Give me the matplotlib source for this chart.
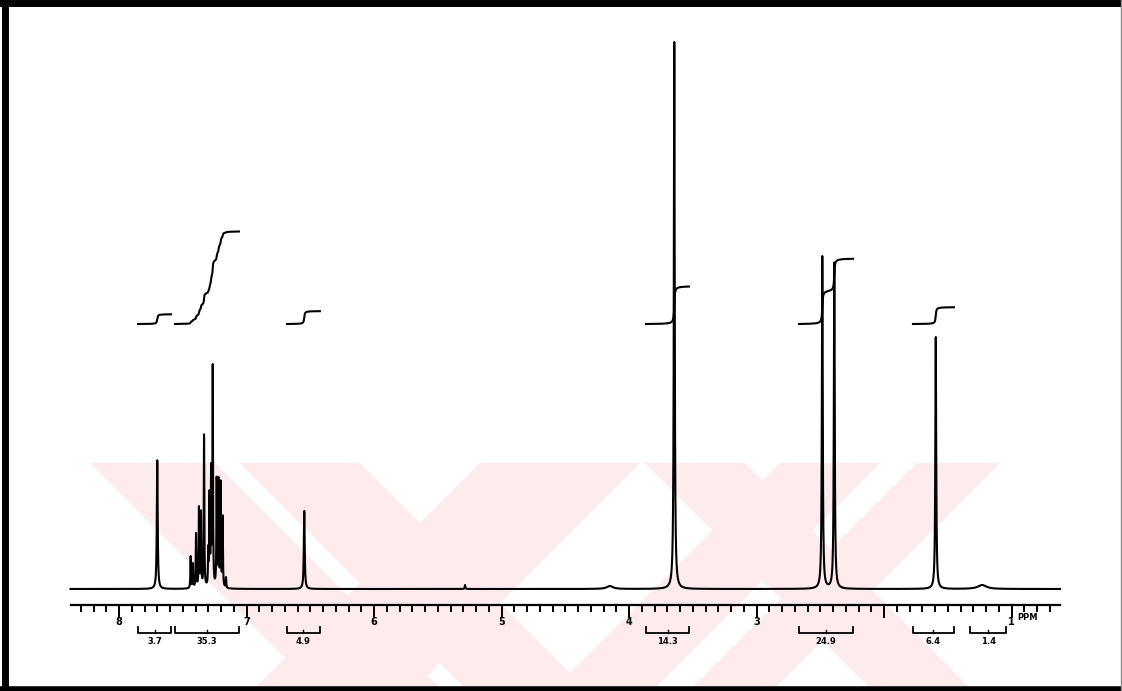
import numpy as np
import matplotlib
matplotlib.use("Agg")
import matplotlib.pyplot as plt
from matplotlib.patches import Polygon
from matplotlib.lines import Line2D

# ---- spectrum data (1H NMR) ----
peak_shifts = [7.70, 7.438, 7.420, 7.396, 7.373, 7.357, 7.333, 7.300, 7.290,
               7.278, 7.265, 7.234, 7.219, 7.203, 7.187, 7.161,
               6.547, 5.286, 4.150, 3.645, 2.484, 2.390, 1.594, 1.230]
peak_heights = [129, 33, 26, 56, 83, 79, 155, 44, 99,
                126, 226, 113, 112, 109, 74, 12,
                78, 4, 3, 547, 333, 327, 252, 4]
peak_hwhm = [0.004] + [0.0025] * 15 + [0.004, 0.003, 0.03, 0.004, 0.004, 0.004, 0.004, 0.04]

# integration regions (ppm, high -> low) and integral values
integral_ranges = [(7.851, 7.592), (7.561, 7.059), (6.682, 6.424), (3.867, 3.529),
                   (2.667, 2.243), (1.773, 1.451), (1.325, 1.043)]
integral_labels = ["3.7", "35.3", "4.9", "14.3", "24.9", "6.4", "1.4"]
integral_values = [3.7, 35.3, 4.9, 14.3, 24.9, 6.4, 1.4]
integral_drawn = [True, True, True, True, True, True, False]

axis_labels = ["8", "7", "6", "5", "4", "3", "", "1"]
axis_label_pos = [8, 7, 6, 5, 4, 3, 2, 1]

W, H = 1122, 691
fig = plt.figure(figsize=(W / 100, H / 100), dpi=100)
ax = fig.add_axes([0, 0, 1, 1])
ax.set_axis_off()

# pixel-like coordinate system: 127.5 px per ppm, 8 ppm at x=119, baseline at row 589
PX_PER_PPM = 127.5
X8 = 119.0
BASE_ROW = 589.0
ax.set_xlim(8 + X8 / PX_PER_PPM, 8 - (W - X8) / PX_PER_PPM)
ax.set_ylim(BASE_ROW - H, BASE_ROW)


def yrow(r):
    return BASE_ROW - r


def xpx(x):
    return 8 - (x - X8) / PX_PER_PPM


# faint watermark stripes behind the spectrum
wm_color = "#fdebee"
top, bot = 463, 691
drop = bot - top
stripes = [
    (90, 215, 1), (240, 360, 1), (645, 745, 1),
    (480, 640, -1), (780, 880, -1), (917, 1000, -1),
]
for x0, x1, d in stripes:
    pts = [(x0, top), (x1, top), (x1 + d * drop, bot), (x0 + d * drop, bot)]
    poly = Polygon([(xpx(px), yrow(py)) for px, py in pts], closed=True,
                   facecolor=wm_color, edgecolor="none", zorder=0)
    ax.add_patch(poly)


def lorentz(x, c, g):
    return g ** 2 / ((x - c) ** 2 + g ** 2)


# amplitudes chosen so the summed trace reaches each listed height at its shift
c = np.array(peak_shifts)
g = np.array(peak_hwhm)
A = lorentz(c[:, None], c[None, :], g[None, :])
amps = np.linalg.solve(A, np.array(peak_heights, dtype=float))

ppm = np.linspace(8.38, 0.62, 20000)
spec = np.zeros_like(ppm)
for ci, ai, gi in zip(c, amps, g):
    spec += ai * lorentz(ppm, ci, gi)
ax.plot(ppm, spec, color="black", lw=1.5, zorder=3, solid_joinstyle="round")

# integral traces
SCALE = 2.62
for (a, b), val, drawn in zip(integral_ranges, integral_values, integral_drawn):
    if not drawn:
        continue
    m = (ppm <= a) & (ppm >= b)
    cum = np.cumsum(spec[m])
    cum = cum / cum[-1]
    ax.plot(ppm[m], 265 + val * SCALE * cum, color="black", lw=1.5, zorder=3)

# ppm ruler
ax.plot([8.38, 0.62], [yrow(605), yrow(605)], color="black", lw=1.6, zorder=3)
minor = np.round(np.arange(0.7, 8.35, 0.1), 1)
for t in minor:
    if abs(t - round(t)) < 1e-6:
        ax.plot([t, t], [yrow(605), yrow(617)], color="black", lw=1.4)
    else:
        ax.plot([t, t], [yrow(605), yrow(611)], color="black", lw=1.4)
for t, lab in zip(axis_label_pos, axis_labels):
    if lab:
        ax.text(t, yrow(622), lab, ha="center", va="center", fontsize=7,
                fontweight="bold", color="black")
ax.text(xpx(1027), yrow(618), "PPM", ha="center", va="center", fontsize=6,
        fontweight="bold", color="black")

# integral brackets
for (a, b), lab in zip(integral_ranges, integral_labels):
    yb = yrow(633)
    ax.plot([a, a, b, b], [yrow(627), yb, yb, yrow(627)], color="black", lw=1.3)
    mid = (a + b) / 2
    ax.plot([mid, mid], [yb, yrow(630)], color="black", lw=1.0)
    ax.text(mid, yrow(642), lab, ha="center", va="center", fontsize=6,
            fontweight="bold", color="black")


# page frame
def fline(x0, y0, x1, y1, lw, color="black"):
    fig.add_artist(Line2D([x0 / W, x1 / W], [1 - y0 / H, 1 - y1 / H],
                          color=color, lw=lw, transform=fig.transFigure))


fline(5, 0, 5, H, 5.0)
fline(0, 3, W, 3, 5.0)
fline(0, 688.5, W, 688.5, 4.0)
fline(1120.5, 0, 1120.5, H, 1.0, color="#888888")

fig.savefig("out.png", dpi=100)
